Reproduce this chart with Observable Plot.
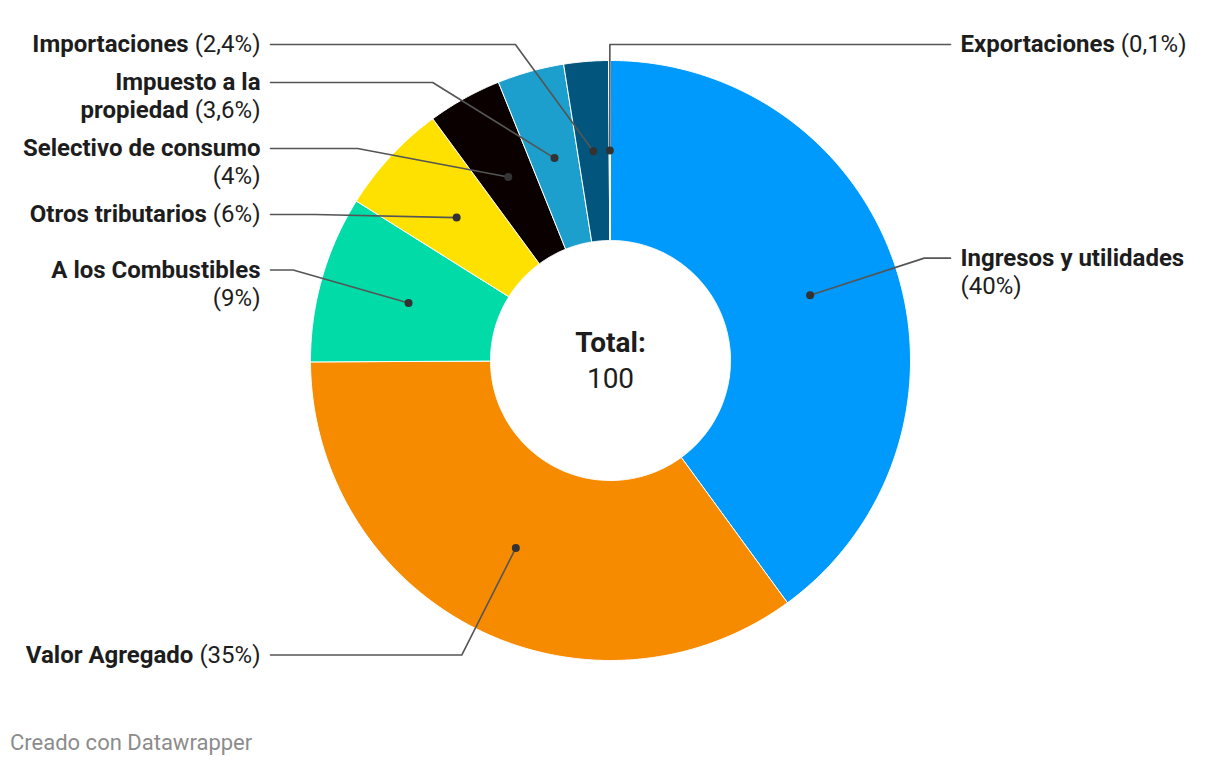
<!DOCTYPE html>
<html><head><meta charset="utf-8">
<script src="https://cdn.jsdelivr.net/npm/d3@7"></script>
<script src="https://cdn.jsdelivr.net/npm/@observablehq/plot@0.6"></script>
<style>
body{margin:0;background:#fff;font-family:Roboto,sans-serif}
#caption{margin-top:10px;padding-left:10px;font-size:22px;color:#8c8c8c;font-family:Roboto,sans-serif;line-height:26px}
</style></head><body>
<div id="chart"></div>
<div id="caption"></div>
<script>
// ---- data ----
const categories = ["Ingresos y utilidades","Valor Agregado","A los Combustibles","Otros tributarios","Selectivo de consumo","Impuesto a la propiedad","Importaciones","Exportaciones"];
const shares = [40,35,9,6,4,3.6,2.4,0.1];
const sliceColors = ["#0099fc","#f78b00","#00dba8","#ffe100","#0a0000","#1c9fcc","#02567d","#d0d0d0"];
const totalLabel = "Total:";
const captionText = "Creado con Datawrapper";

// ---- layout ----
const W=1220,H=720,cx=610,cy=360,rOuter=300,rInner=120,rDot=210,rElbow=330,labelOffset=340,textGap=10;
const fontSize=24,lineH=28,labelGap=10,maxLabelW=243,fontFam="Roboto";

const total = d3.sum(shares);
const rad = a => a*Math.PI/180;
const px = (a,r) => cx + r*Math.sin(rad(a));
const py = (a,r) => cy - r*Math.cos(rad(a));

// slices
let acc = 0;
const slicePts = [];
const sliceInfo = categories.map((name,i)=>{
  const a0 = acc/total*360; acc += shares[i]; const a1 = acc/total*360;
  const n = Math.max(2, Math.ceil((a1-a0)/0.5));
  const outer=[], inner=[];
  for(let k=0;k<=n;k++){ const a=a0+(a1-a0)*k/n; outer.push({name, x:px(a,rOuter), y:py(a,rOuter)}); inner.push({name, x:px(a,rInner), y:py(a,rInner)}); }
  const poly = outer.concat(inner.reverse()); poly.push(poly[0]);
  slicePts.push(...poly);
  return {name, a0, a1, mid:(a0+a1)/2, value:shares[i]};
});

// text measurement
const ctx = document.createElement("canvas").getContext("2d");
const measure = (t,w) => { ctx.font = `${w} ${fontSize}px ${fontFam}`; return ctx.measureText(t).width; };
const lineWidth = toks => {
  const b = toks.filter(t=>t.bold).map(t=>t.t).join(" ");
  const r = toks.filter(t=>!t.bold).map(t=>t.t).join(" ");
  return (b?measure(b,700):0) + (r? measure((b?" ":"")+r,400):0);
};
const fmtPct = v => "(" + String(v).replace(".", ",") + "%)";

const labels = sliceInfo.map(s=>{
  const dotX = px(s.mid,rDot), dotY = py(s.mid,rDot);
  const side = dotX >= cx-2 ? 1 : -1;
  const toks = s.name.split(" ").map(t=>({t,bold:true})).concat([{t:fmtPct(s.value),bold:false}]);
  const lines=[]; let cur=[];
  for(const tk of toks){ const tryL = cur.concat([tk]); if(cur.length && lineWidth(tryL)>maxLabelW){ lines.push(cur); cur=[tk]; } else cur=tryL; }
  lines.push(cur);
  return {...s, dotX, dotY, side, lines, naturalY: cy - rElbow*Math.cos(rad(s.mid))};
});

// stack labels per side
const minY = cy - rElbow + lineH/2;
for(const side of [-1,1]){
  const group = labels.filter(l=>l.side===side).sort((a,b)=>a.naturalY-b.naturalY);
  let next = minY;
  for(const l of group){ l.y = Math.max(l.naturalY, next); next = l.y + l.lines.length*lineH + labelGap; }
}

const leaderPts=[], segs=[];
for(const l of labels){
  const dy = l.y - cy;
  let ex = Math.abs(dy)<rElbow ? cx + l.side*Math.sqrt(rElbow*rElbow-dy*dy) : cx;
  if(Math.abs(l.dotX-cx)<5) ex = l.dotX;
  const endX = cx + l.side*labelOffset, tx = endX + l.side*textGap;
  leaderPts.push({name:l.name,x:l.dotX,y:l.dotY},{name:l.name,x:ex,y:l.y},{name:l.name,x:endX,y:l.y});
  l.lines.forEach((toks,j)=>{
    const y = l.y + j*lineH;
    const b = toks.filter(t=>t.bold).map(t=>t.t).join(" ");
    const r = toks.filter(t=>!t.bold).map(t=>t.t).join(" ");
    if(l.side<0){
      if(r) segs.push({side:-1,bold:false,text:r,x:tx,y});
      if(b) segs.push({side:-1,bold:true,text:b,x:tx-(r?measure(" "+r,400):0),y});
    } else {
      if(b) segs.push({side:1,bold:true,text:b,x:tx,y});
      if(r) segs.push({side:1,bold:false,text:r,x:tx+(b?measure(b+" ",700):0),y});
    }
  });
}

const txt = (side,bold) => Plot.text(segs.filter(s=>s.side===side && s.bold===bold), {
  x:"x", y:"y", text:"text", textAnchor: side<0?"end":"start", fontWeight: bold?700:400,
  fontSize, fontFamily: fontFam, fill:"#1d1d1d"
});

const chart = Plot.plot({
  width:W, height:H, margin:0,
  x:{domain:[0,W], range:[0,W], axis:null},
  y:{domain:[0,H], range:[0,H], axis:null},
  color:{domain:categories, range:sliceColors},
  style:{fontFamily:fontFam, background:"#fff"},
  marks:[
    Plot.line(slicePts, {x:"x", y:"y", z:"name", fill:"name", stroke:"#fff", strokeWidth:1}),
    Plot.line(leaderPts, {x:"x", y:"y", z:"name", stroke:"#555", strokeWidth:1.6}),
    Plot.dot(labels, {x:"dotX", y:"dotY", r:4, fill:"#333", stroke:null}),
    txt(-1,true), txt(-1,false), txt(1,true), txt(1,false),
    Plot.text([totalLabel], {frameAnchor:"middle", dy:-17, text:d=>d, fontWeight:700, fontSize:28, fontFamily:fontFam, fill:"#1d1d1d"}),
    Plot.text([Math.round(total)], {frameAnchor:"middle", dy:19, text:d=>String(d), fontWeight:400, fontSize:28, fontFamily:fontFam, fill:"#1d1d1d"})
  ]
});
document.getElementById("chart").appendChild(chart);
document.getElementById("caption").textContent = captionText;
</script>
</body></html>
